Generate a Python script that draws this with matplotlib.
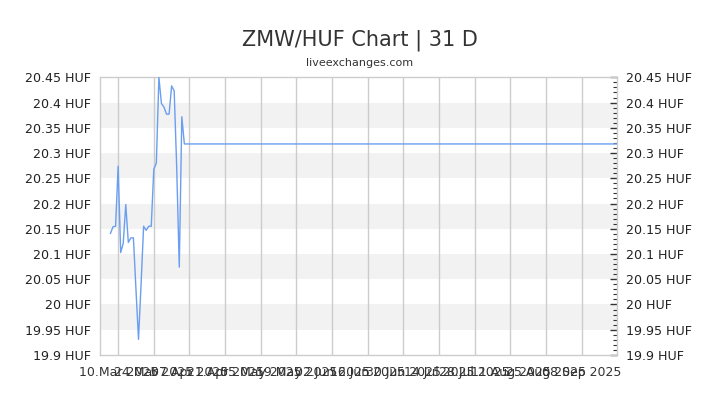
import matplotlib
matplotlib.use("Agg")
import matplotlib.pyplot as plt
from matplotlib.ticker import MultipleLocator
import pandas as pd

dates = list(pd.date_range("2025-03-07", "2025-04-05", freq="D")) + [pd.Timestamp("2025-09-22")]
rates = [20.141, 20.154, 20.155, 20.274, 20.103, 20.121, 20.198, 20.123, 20.132, 20.132,
         20.03, 19.931, 20.04, 20.155, 20.147, 20.155, 20.155, 20.268, 20.280, 20.45,
         20.398, 20.391, 20.377, 20.377, 20.433, 20.423, 20.27, 20.074, 20.372, 20.318,
         20.318]
tick_dates = pd.date_range("2025-03-10", "2025-09-08", freq="14D")
y_ticks = [19.9, 19.95, 20.0, 20.05, 20.1, 20.15, 20.2, 20.25, 20.3, 20.35, 20.4, 20.45]
band_ranges = [(19.95, 20.0), (20.05, 20.1), (20.15, 20.2), (20.25, 20.3), (20.35, 20.4)]

fig = plt.figure(figsize=(7.2, 4.05), dpi=100)
ax = fig.add_axes([0.1393, 0.1235, 0.7183, 0.6856])

for lo, hi in band_ranges:
    ax.axhspan(lo, hi, color="#f2f2f2", lw=0, zorder=0)

for d in tick_dates:
    ax.axvline(d, color="#cccccc", lw=1, zorder=1)

ax.plot(dates, rates, color="#6a9ef0", lw=1, zorder=3)

ax.set_xlim(pd.Timestamp("2025-03-03"), pd.Timestamp("2025-09-22"))
ax.set_ylim(19.9, 20.45)

ax.set_xticks(tick_dates)
ax.set_xticklabels([d.strftime("%d.%b %Y") for d in tick_dates], fontsize=9, color="#333333")
ax.tick_params(axis="x", length=0, pad=8)

ax.set_yticks(y_ticks)
labels = [f"{v:g} HUF" for v in y_ticks]
ax.set_yticklabels(labels, fontsize=9.1, color="#222222")
ax.tick_params(axis="y", which="major", left=False, right=True, labelleft=True, labelright=True,
               direction="in", length=5, width=1, color="#333333", pad=6.5)
ax.yaxis.set_minor_locator(MultipleLocator(0.01))
ax.tick_params(axis="y", which="minor", left=False, right=True, direction="in", length=3,
               width=0.8, color="#333333")

for s in ax.spines.values():
    s.set_color("#cccccc")
    s.set_linewidth(1)

fig.text(0.5, 0.901, "ZMW/HUF Chart | 31 D", ha="center", va="center", fontsize=15, color="#333333")
fig.text(0.5, 0.844, "liveexchanges.com", ha="center", va="center", fontsize=8, color="#333333")

fig.savefig("out.png", dpi=100)
